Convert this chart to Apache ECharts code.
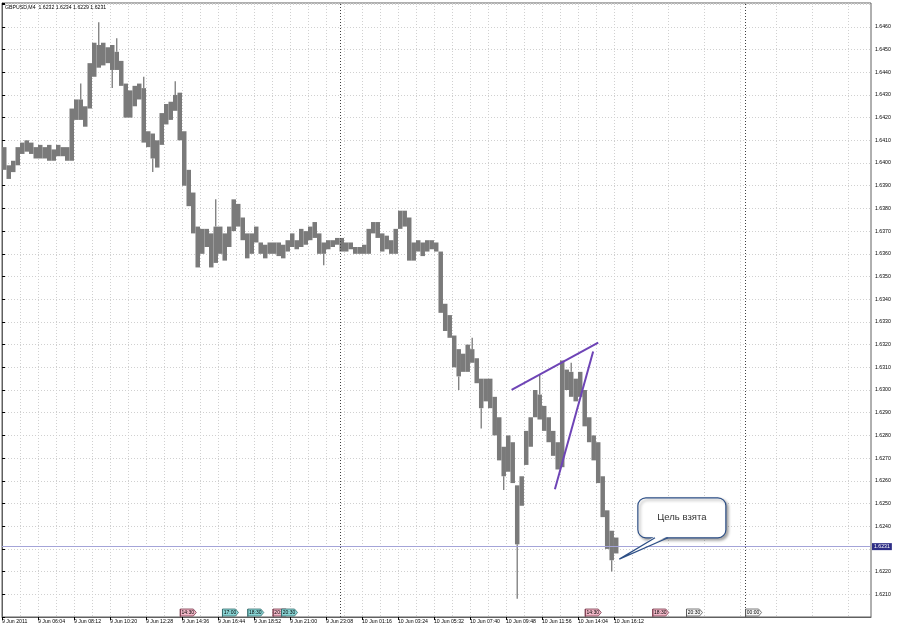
<!DOCTYPE html>
<html><head><meta charset="utf-8">
<script src="https://cdn.jsdelivr.net/npm/echarts@6/dist/echarts.min.js"></script>
<style>html,body{margin:0;padding:0;background:#fff}#c{width:900px;height:630px}</style>
</head><body><div id="c"></div>
<script>
// ---------- data ----------
const symbolName = 'GBPUSD,M4';
const lastBar = [1.6232, 1.6234, 1.6229, 1.6231]; // O H L C of the last M4 bar
const firstBarClock = 236;   // 9 Jun 03:56, minutes after 9 Jun 00:00
const barMinutes = 16;       // each drawn bar groups four M4 bars

// dense price band (high / low of each 16-minute group)
const barHigh = [
1.6407,1.6399,1.6401,1.6407,1.6409,1.6410,1.6409,1.6407,1.6408,1.6407,
1.6408,1.6406,1.6408,1.6407,1.6407,1.6424,1.6428,1.6428,1.6425,1.6444,
1.6453,1.6452,1.6453,1.6451,1.6452,1.6449,1.6445,1.6435,1.6432,1.6434,
1.6435,1.6433,1.6414,1.6413,1.6410,1.6422,1.6426,1.6427,1.6430,1.6431,
1.6414,1.6397,1.6387,1.6372,1.6371,1.6371,1.6369,1.6372,1.6372,1.6369,
1.6372,1.6384,1.6382,1.6376,1.6369,1.6369,1.6372,1.6365,1.6364,1.6365,
1.6365,1.6365,1.6364,1.6366,1.6369,1.6366,1.6371,1.6370,1.6372,1.6374,
1.6369,1.6365,1.6366,1.6366,1.6367,1.6367,1.6365,1.6365,1.6363,1.6363,
1.6364,1.6371,1.6374,1.6374,1.6369,1.6368,1.6366,1.6371,1.6379,1.6379,
1.6376,1.6365,1.6366,1.6365,1.6366,1.6366,1.6365,1.6361,1.6338,1.6333,
1.6324,1.6318,1.6316,1.6320,1.6318,1.6314,1.6305,1.6305,1.6305,1.6297,
1.6288,1.6275,1.6280,1.6277,1.6258,1.6262,1.6282,1.6288,1.6300,1.6298,
1.6293,1.6288,1.6282,1.6277,1.6313,1.6309,1.6308,1.6305,1.6308,1.6300,
1.6288,1.6280,1.6277,1.6262,1.6247,1.6238,1.6235
];
const barLow = [
1.6397,1.6393,1.6396,1.6399,1.6404,1.6405,1.6404,1.6402,1.6402,1.6402,
1.6401,1.6401,1.6403,1.6403,1.6401,1.6401,1.6419,1.6419,1.6416,1.6424,
1.6438,1.6442,1.6443,1.6444,1.6441,1.6441,1.6434,1.6420,1.6420,1.6425,
1.6428,1.6409,1.6407,1.6402,1.6398,1.6408,1.6417,1.6419,1.6423,1.6410,
1.6390,1.6381,1.6369,1.6354,1.6360,1.6363,1.6354,1.6356,1.6360,1.6357,
1.6363,1.6370,1.6372,1.6366,1.6358,1.6360,1.6365,1.6360,1.6358,1.6360,
1.6360,1.6359,1.6358,1.6361,1.6363,1.6362,1.6363,1.6364,1.6366,1.6367,
1.6360,1.6360,1.6362,1.6363,1.6364,1.6361,1.6361,1.6362,1.6360,1.6360,
1.6360,1.6360,1.6369,1.6367,1.6361,1.6362,1.6360,1.6360,1.6371,1.6372,
1.6357,1.6357,1.6361,1.6359,1.6361,1.6362,1.6361,1.6334,1.6326,1.6323,
1.6310,1.6306,1.6308,1.6308,1.6312,1.6303,1.6292,1.6295,1.6292,1.6280,
1.6269,1.6262,1.6264,1.6259,1.6232,1.6249,1.6267,1.6275,1.6288,1.6287,
1.6282,1.6277,1.6271,1.6265,1.6266,1.6300,1.6297,1.6295,1.6297,1.6284,
1.6277,1.6269,1.6259,1.6244,1.6230,1.6225,1.6228
];
// single-bar spikes outside the band: [group index, extreme price]
const spikes = [[17,1.6435],[21,1.6462],[24,1.6433],[25,1.6455],[31,1.6438],[33,1.6396],[38,1.6436],
  [47,1.6384],[71,1.6355],[101,1.6300],[104,1.6323],[106,1.6283],[111,1.6256],[114,1.6208],
  [119,1.6307],[126,1.6312],[135,1.6220]];

const xLabels = ['9 Jun 2011','9 Jun 06:04','9 Jun 08:12','9 Jun 10:20','9 Jun 12:28','9 Jun 14:36',
  '9 Jun 16:44','9 Jun 18:52','9 Jun 21:00','9 Jun 23:08','10 Jun 01:16','10 Jun 03:24',
  '10 Jun 05:32','10 Jun 07:40','10 Jun 09:48','10 Jun 11:56','10 Jun 14:04','10 Jun 16:12'];
const xLabelStep = 128; // minutes between time labels
const yLabels = ['1.6210','1.6220','1.6230','1.6240','1.6250','1.6260','1.6270','1.6280','1.6290',
  '1.6300','1.6310','1.6320','1.6330','1.6340','1.6350','1.6360','1.6370','1.6380','1.6390',
  '1.6400','1.6410','1.6420','1.6430','1.6440','1.6450','1.6460'];

const daySeparators = [1204, 2644];  // midnights, minutes after first bar
const trendLines = [
  [[1812, 1.63001], [2120, 1.63209]],
  [[1966, 1.62563], [2102, 1.63170]]
];
const calloutText = 'Цель взята';
const calloutBox = [2261, 1.62525, 2574, 1.62349];
const calloutTip = [2195, 1.62255];
const calloutBase = [2322, 2368];

const events = [
  [634, '14:30', 'pink'], [784, '17:00', 'teal'], [874, '18:30', 'teal'],
  [964, '20:00', 'pink'], [994, '20:30', 'teal'],
  [2074, '14:30', 'pink'], [2314, '18:30', 'pink'], [2434, '20:30', 'white'], [2644, '00:00', 'white']
];

// ---------- chart ----------
const Y_MIN = 1.6200, Y_MAX = 1.64705, X_MAX = 3090;
const FONT = 'Liberation Sans, Arial, sans-serif';
const BAR_COLOR = '#7a7a7a';
const tagStyles = {
  pink:  {fill: '#f2b8c8', stroke: '#7a3a4c'},
  teal:  {fill: '#8ad6d6', stroke: '#3a6e6e'},
  white: {fill: '#f6f6f6', stroke: '#5a5a5a'}
};

const chart = echarts.init(document.getElementById('c'), null, {renderer: 'canvas'});

const barData = barHigh.map((h, i) => [i * barMinutes + barMinutes / 2, h, barLow[i]]);
const spikeData = spikes.map(s => {
  const i = s[0];
  const edge = s[1] > barHigh[i] ? barHigh[i] : barLow[i];
  return [i * barMinutes + barMinutes / 2, s[1], edge];
});

const option = {
  animation: false,
  backgroundColor: '#ffffff',
  title: {
    text: symbolName + '  ' + lastBar.map(v => v.toFixed(4)).join(' '),
    left: 5, top: 5, padding: 0,
    textStyle: {fontSize: 5.2, fontWeight: 'normal', color: '#000', fontFamily: FONT}
  },
  grid: {
    left: 2, right: 29, top: 3, bottom: 13,
    show: true, borderColor: '#606060', borderWidth: 1,
    outerBoundsMode: 'none', containLabel: false
  },
  xAxis: {
    type: 'value', min: 0, max: X_MAX, interval: xLabelStep,
    axisLine: {show: true, lineStyle: {color: '#606060'}},
    axisTick: {show: true, length: 3, lineStyle: {color: '#000'},
      customValues: xLabels.map((_, i) => i * xLabelStep)},
    axisLabel: {
      customValues: xLabels.map((_, i) => i * xLabelStep),
      formatter: v => xLabels[Math.round(v / xLabelStep)] || '',
      align: 'left', fontSize: 5.2, color: '#000', margin: 2, fontFamily: FONT
    },
    splitLine: {show: true, lineStyle: {color: '#d0d0d0', type: [1, 2], width: 1}},
    minorTick: {show: false, splitNumber: 2},
    minorSplitLine: {show: true, lineStyle: {color: '#d0d0d0', type: [1, 2], width: 1}}
  },
  yAxis: {
    type: 'value', position: 'right', min: Y_MIN, max: Y_MAX, interval: 0.001, scale: true,
    axisLine: {show: true, lineStyle: {color: '#606060'}},
    axisTick: {show: true, length: 3, lineStyle: {color: '#000'}},
    axisLabel: {
      formatter: v => (yLabels.indexOf(v.toFixed(4)) >= 0 ? v.toFixed(4) : ''),
      fontSize: 5.2, color: '#000', margin: 4, fontFamily: FONT
    },
    splitLine: {show: true, lineStyle: {color: '#d0d0d0', type: [1, 2], width: 1}}
  },
  series: [
    {
      type: 'custom', name: 'bars', silent: true,
      data: barData, encode: {x: 0, y: [1, 2]},
      renderItem: function (params, api) {
        const t = api.value(0);
        const top = api.coord([t, api.value(1)]);
        const bot = api.coord([t, api.value(2)]);
        const w = api.size([barMinutes, 0])[0];
        return {
          type: 'rect',
          shape: {x: top[0] - w / 2, y: top[1], width: w, height: Math.max(1, bot[1] - top[1])},
          style: {fill: BAR_COLOR}
        };
      },
      z: 3
    },
    {
      type: 'custom', name: 'spikes', silent: true,
      data: spikeData, encode: {x: 0, y: [1, 2]},
      renderItem: function (params, api) {
        const t = api.value(0);
        const a = api.coord([t, api.value(1)]);
        const b = api.coord([t, api.value(2)]);
        return {type: 'line', shape: {x1: a[0], y1: a[1], x2: b[0], y2: b[1]},
          style: {stroke: BAR_COLOR, lineWidth: 1.3}};
      },
      z: 3
    },
    {
      type: 'line', name: 'annotations', data: [], silent: true,
      markLine: {
        silent: true, symbol: 'none', animation: false,
        data: [
          ...daySeparators.map(v => ({xAxis: v, lineStyle: {color: '#404040', type: [1, 2], width: 1}, label: {show: false}})),
          [
            {coord: [0, lastBar[3]], lineStyle: {color: '#a4a4d8', type: 'solid', width: 1},
              label: {show: true, position: 'end', formatter: () => lastBar[3].toFixed(4),
                backgroundColor: '#2e2e86', color: '#fff', fontSize: 5.2, padding: [1, 2], distance: 1, fontFamily: FONT}},
            {coord: [X_MAX, lastBar[3]]}
          ],
          ...trendLines.map(l => [
            {coord: l[0], lineStyle: {color: '#6e44b6', width: 2, type: 'solid'}, label: {show: false}},
            {coord: l[1]}
          ])
        ]
      },
      z: 4
    },
    {
      type: 'custom', name: 'callout', silent: true, data: [[calloutTip[0], calloutTip[1]]],
      renderItem: function (params, api) {
        const a = api.coord([calloutBox[0], calloutBox[1]]);
        const b = api.coord([calloutBox[2], calloutBox[3]]);
        const tip = api.coord(calloutTip);
        const b0 = api.coord([calloutBase[0], calloutBox[3]]);
        const b1 = api.coord([calloutBase[1], calloutBox[3]]);
        return {
          type: 'group',
          children: [
            {type: 'rect', shape: {x: a[0], y: a[1], width: b[0] - a[0], height: b[1] - a[1], r: 8},
              style: {fill: '#fff', stroke: '#2d4f86', lineWidth: 1.2,
                shadowBlur: 3, shadowOffsetX: 2, shadowOffsetY: 2, shadowColor: 'rgba(0,0,0,0.35)'}},
            {type: 'polygon', shape: {points: [[b0[0], b0[1] - 1.5], tip, [b1[0], b1[1] - 1.5]]},
              style: {fill: '#fff', stroke: null}},
            {type: 'polyline', shape: {points: [[b0[0], b0[1]], tip, [b1[0], b1[1]]]},
              style: {stroke: '#2d4f86', lineWidth: 1.2, fill: null}},
            {type: 'text', x: (a[0] + b[0]) / 2, y: (a[1] + b[1]) / 2,
              style: {text: calloutText, fill: '#333', fontSize: 9.5, fontFamily: FONT,
                align: 'center', verticalAlign: 'middle'}}
          ]
        };
      },
      z: 6
    },
    {
      type: 'custom', name: 'events', silent: true,
      data: events.map((e, i) => [e[0], Y_MIN, i]),
      renderItem: function (params, api) {
        const ev = events[api.value(2)];
        const p = api.coord([api.value(0), api.value(1)]);
        const st = tagStyles[ev[2]];
        const w = 16, h = 7, x = p[0], y = p[1] - h - 1;
        return {
          type: 'group',
          children: [
            {type: 'polygon', shape: {points: [[x, y], [x + w - 3, y], [x + w, y + h / 2], [x + w - 3, y + h], [x, y + h]]},
              style: {fill: st.fill, stroke: st.stroke, lineWidth: 0.8}},
            {type: 'line', shape: {x1: x, y1: y, x2: x, y2: p[1]}, style: {stroke: st.stroke, lineWidth: 1}},
            {type: 'text', x: x + (w - 2) / 2 + 0.5, y: y + h / 2 + 0.5,
              style: {text: ev[1], fill: '#000', fontSize: 5, fontFamily: FONT, align: 'center', verticalAlign: 'middle'}}
          ]
        };
      },
      z: 5
    }
  ]
};
chart.setOption(option);
</script>
</body></html>
